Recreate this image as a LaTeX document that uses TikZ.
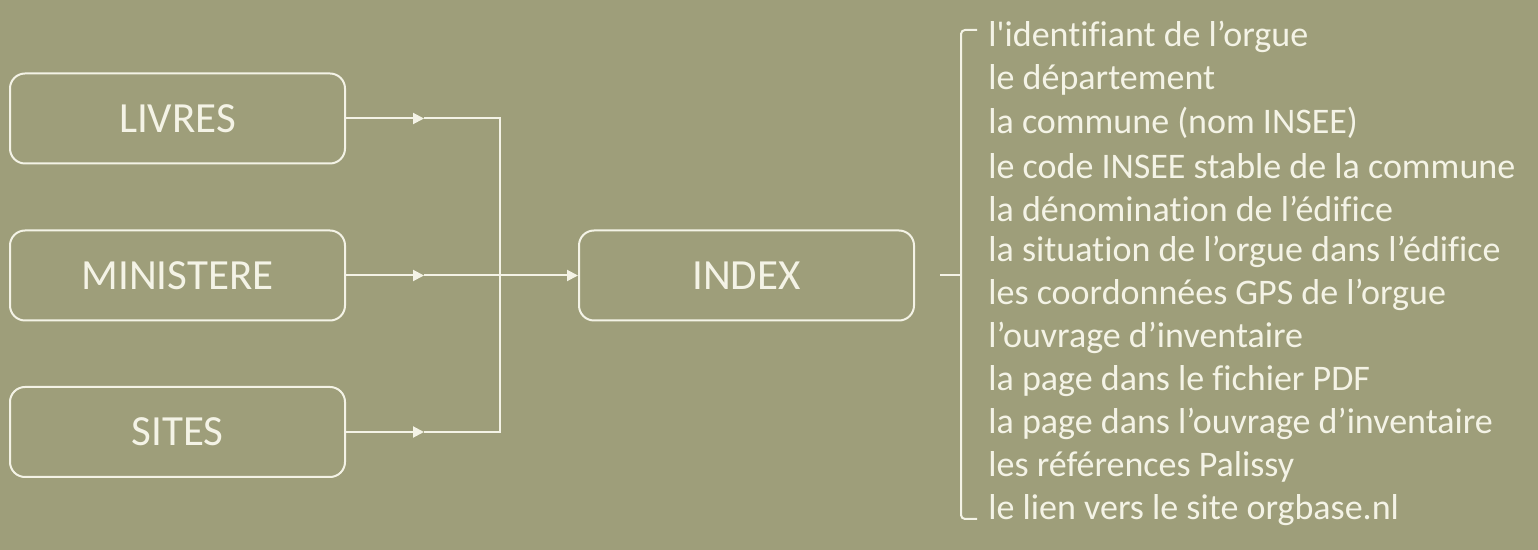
\documentclass[tikz,border=0pt]{standalone}
\usepackage{fontspec}
\setmainfont{Carlito}[Ligatures={TeXOff,CommonOff}]
\usetikzlibrary{arrows.meta}

\definecolor{fond}{HTML}{9E9E7A}
\definecolor{trait}{HTML}{F4F3E6}

\tikzset{
  boite/.style={draw=trait,line width=1pt,rounded corners=7.5pt,
    minimum width=167.5pt,minimum height=45pt,text=trait,
    font=\fontsize{21.5}{25}\selectfont},
  champ/.style={anchor=west,text=trait,inner sep=0pt,
    font=\fontsize{18}{21}\selectfont},
  fleche/.style={draw=trait,line width=1pt,-{Triangle[length=5.5pt,width=5.5pt]}},
  lien/.style={draw=trait,line width=1pt}
}

\begin{document}
\begin{tikzpicture}[x=0.5pt,y=-0.5pt]
    \fill[fond] (0,0) rectangle (1538,550);
    \useasboundingbox (0,0) rectangle (1538,550);
    \path (177.5,118.5) node [boite] (livres) {LIVRES};
    \path (177.5,275.5) node [boite] (ministere) {MINISTERE};
    \path (177.5,432) node [boite] (sites) {SITES};
    \path (746.5,275.5) node [boite] (index) {INDEX};
    \coordinate (tl) at (424,118.5);
    \coordinate (tm) at (424,275.5);
    \coordinate (ts) at (424,432);
    \coordinate (jonction) at (500,275.5);
    \draw [fleche] (livres.east) -- (tl);
    \draw [fleche] (ministere.east) -- (tm);
    \draw [fleche] (sites.east) -- (ts);
    \draw [lien] (tl) -| (jonction);
    \draw [lien] (ts) -| (jonction);
    \draw [fleche] (tm) -- (index.west);
    % accolade
    \coordinate (pointe) at (940,275);
    \draw [lien] (pointe) -- (961,275);
    \draw [lien,rounded corners=2pt] (977,30) -- (961,30) -- (961,519) -- (977,519);
    \foreach \t [count=\i] in {l'identifiant de l’orgue,le département,
        la commune (nom INSEE),le code INSEE stable de la commune,
        la dénomination de l’édifice,la situation de l’orgue dans l’édifice,
        les coordonnées GPS de l’orgue,l’ouvrage d’inventaire,
        la page dans le fichier PDF,la page dans l’ouvrage d’inventaire,
        les références Palissy,le lien vers le site orgbase.nl}
      \path (988,{37+43*(\i-1)}) node [champ] (f\i) {\t};
\end{tikzpicture}
\end{document}
